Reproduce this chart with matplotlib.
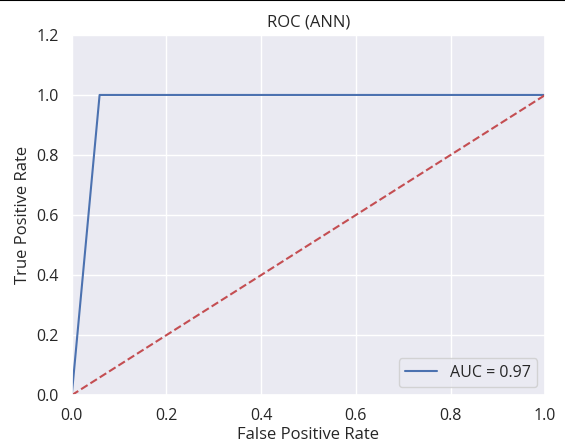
import matplotlib
matplotlib.use("Agg")
import matplotlib.pyplot as plt
import seaborn as sns
from matplotlib.lines import Line2D

# ROC curve points
fpr = [0.0, 0.0588, 1.0]
tpr = [0.0, 1.0, 1.0]
diag = [0.0, 1.0]
auc_value = 0.97

sns.set_theme(style="darkgrid")
plt.rcParams["font.family"] = ["Open Sans", "DejaVu Sans"]

fig = plt.figure(figsize=(5.65, 4.42), dpi=100)
ax = fig.add_axes([0.127, 0.106, 0.838, 0.815])

ax.plot(fpr, tpr, color="#4c72b0", lw=1.5, label=f"AUC = {auc_value:.2f}")
ax.plot(diag, diag, "r--", lw=1.5)
ax.set_xlim(0, 1)
ax.set_ylim(0, 1.2)
ax.set_title("ROC (ANN)", fontsize=12)
ax.set_xlabel("False Positive Rate", fontsize=12, labelpad=2)
ax.set_ylabel("True Positive Rate", fontsize=12)
ax.tick_params(labelsize=11.5)
ax.legend(loc="lower right", fontsize=11.5)

fig.add_artist(Line2D([0, 1], [0.999, 0.999], transform=fig.transFigure, color="black", lw=1.5))

fig.savefig("out.png", dpi=100)
